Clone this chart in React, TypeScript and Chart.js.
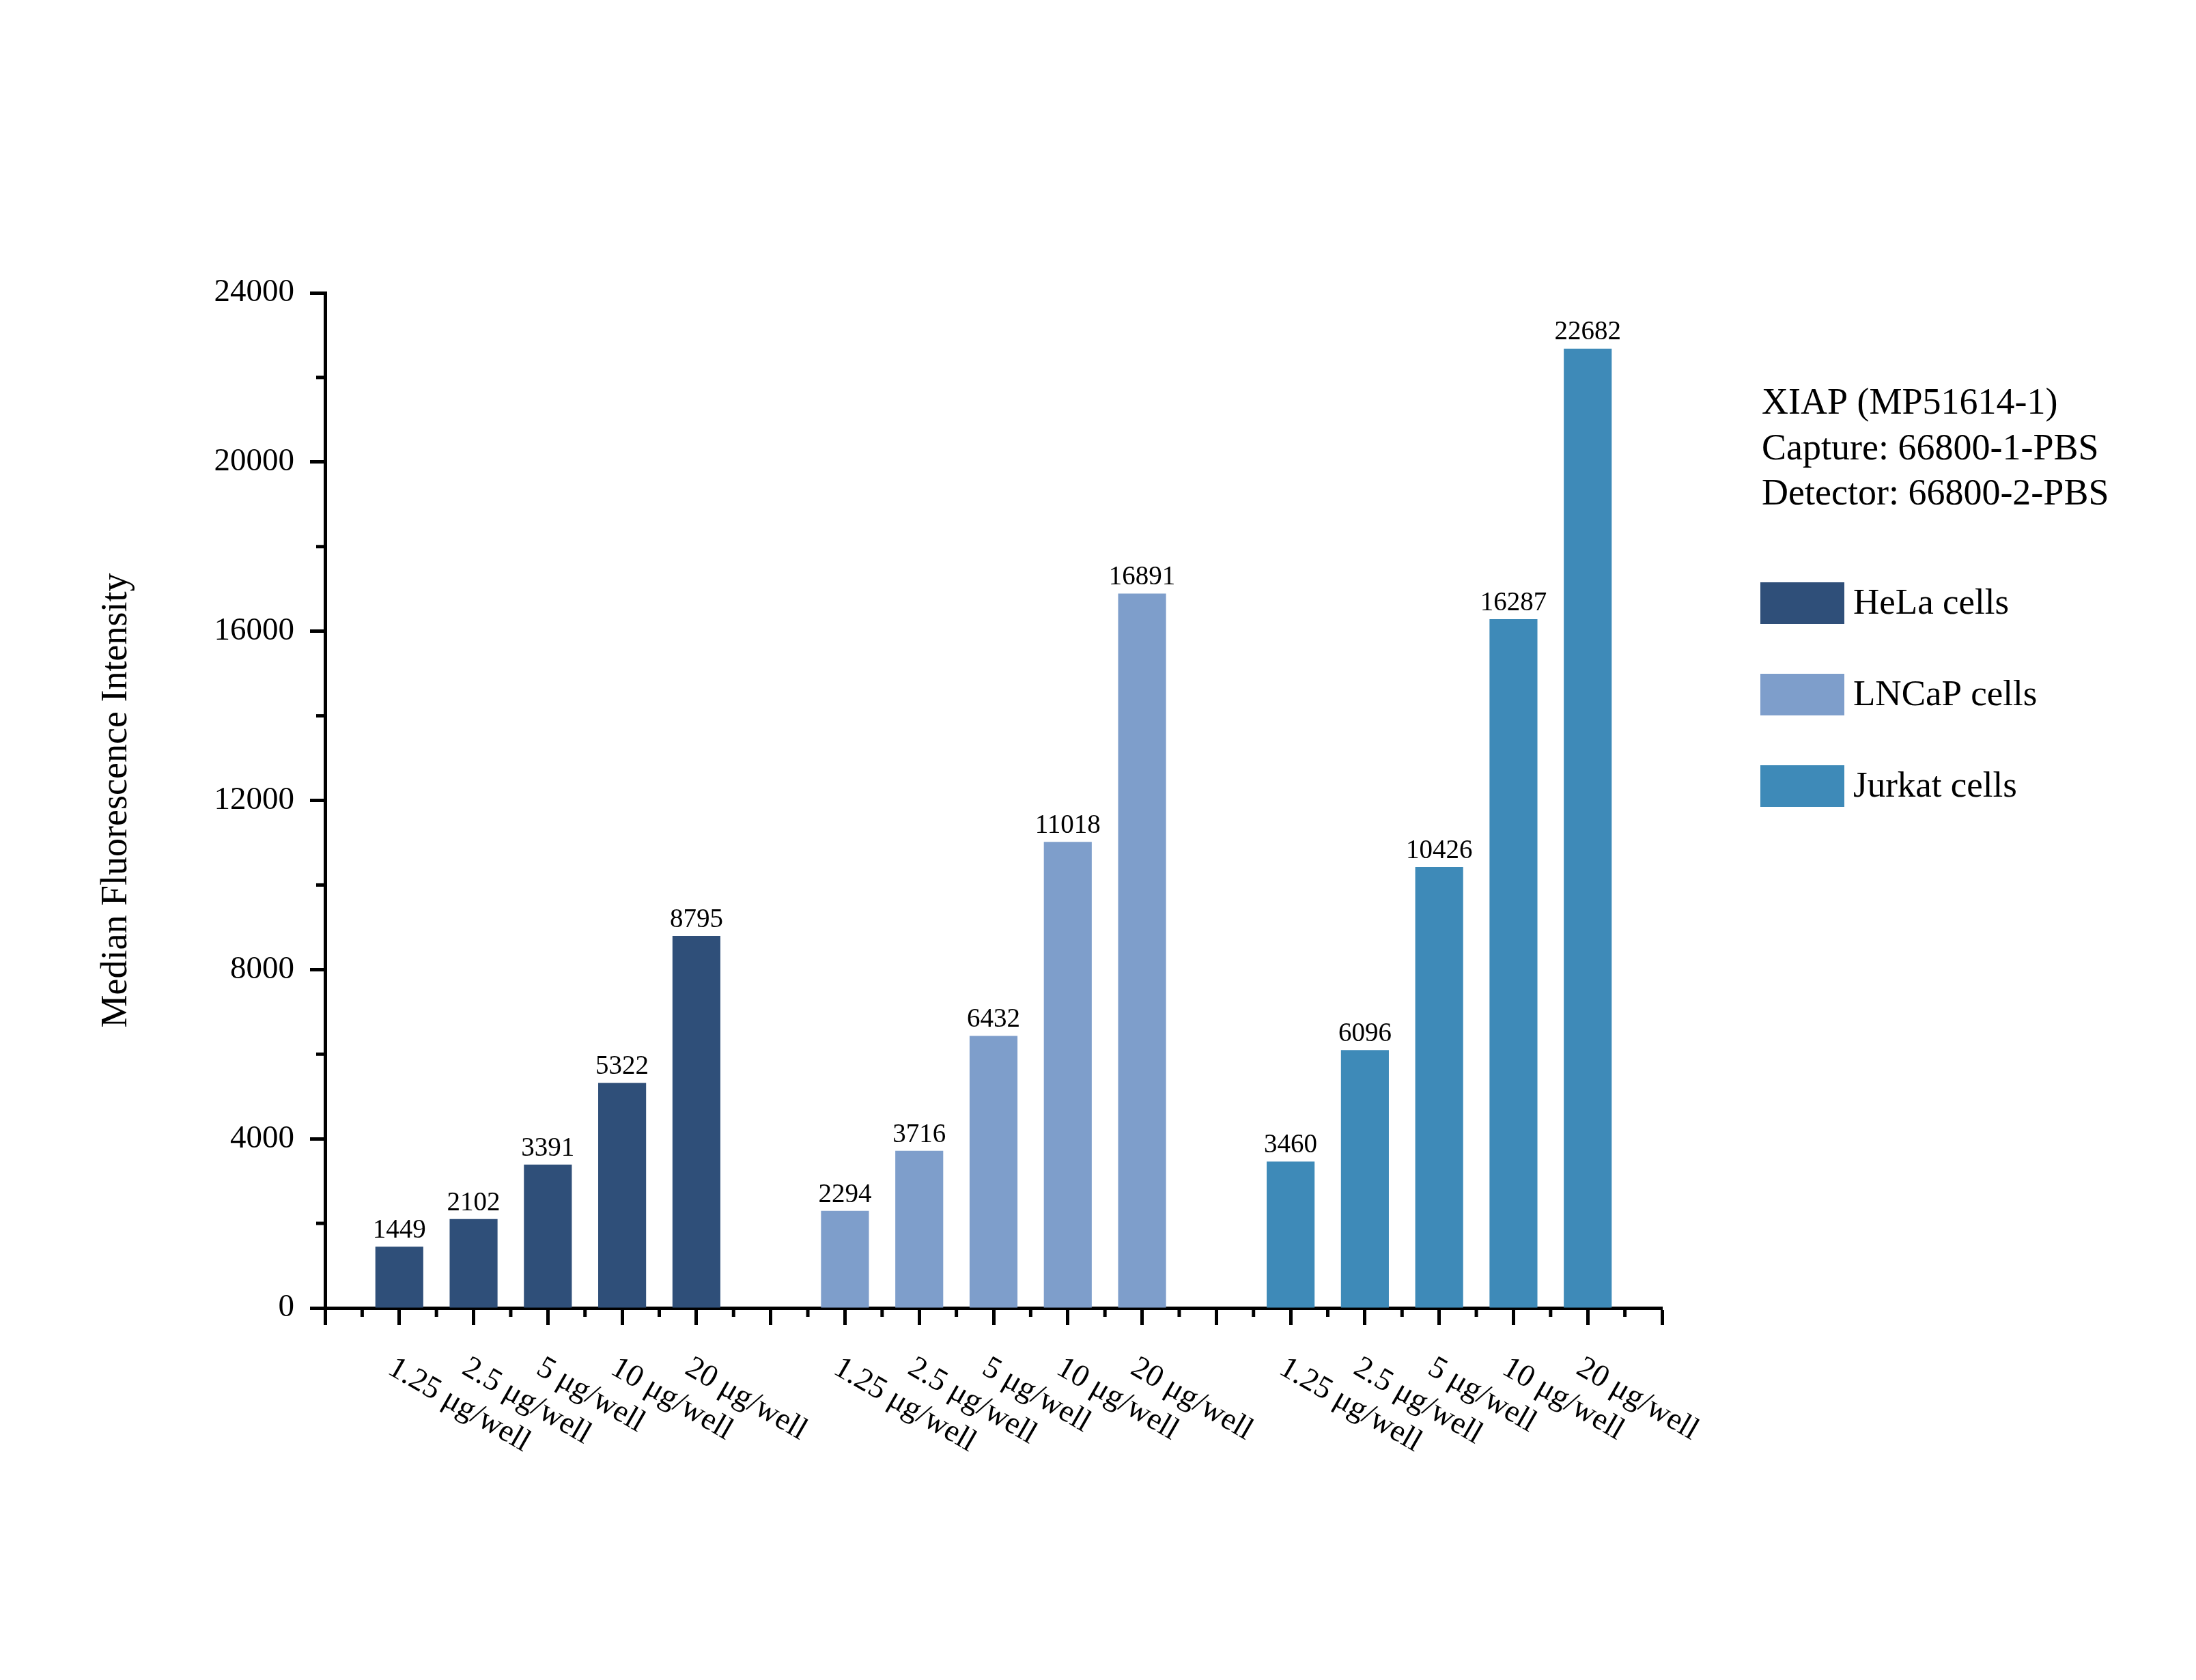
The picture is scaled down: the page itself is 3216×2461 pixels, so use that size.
import React, { useEffect, useRef } from 'react';
import { Chart, registerables } from 'chart.js';

Chart.register(...registerables);

const FONT = "'Liberation Serif', 'Times New Roman', serif";

const doseLabels = ['1.25 μg/well', '2.5 μg/well', '5 μg/well', '10 μg/well', '20 μg/well'];
const cellLines = ['HeLa cells', 'LNCaP cells', 'Jurkat cells'];
const helaValues = [1449, 2102, 3391, 5322, 8795];
const lncapValues = [2294, 3716, 6432, 11018, 16891];
const jurkatValues = [3460, 6096, 10426, 16287, 22682];
const seriesColors = ['#2F4F79', '#7E9ECB', '#3E8AB8'];
const yTickValues = [0, 4000, 8000, 12000, 16000, 20000, 24000];
const annotationLines = ['XIAP (MP51614-1)', 'Capture: 66800-1-PBS', 'Detector: 66800-2-PBS'];
const yAxisTitle = 'Median Fluorescence Intensity';
const slotsPerGroup = 6; // 5 doses + 1 empty slot between groups
const xMax = 18;

const seriesValues = [helaValues, lncapValues, jurkatValues];
const xPosition = (g: number, i: number) => g * slotsPerGroup + i + 1;

const W = 3216;
const H = 2461;

const overlayPlugin = {
  id: 'overlay',
  afterDraw(chart: any) {
    const { ctx, chartArea, scales } = chart;
    const x = scales.x;
    const y = scales.y;
    ctx.save();
    // minor ticks
    ctx.strokeStyle = '#000';
    ctx.lineWidth = 5;
    for (let v = 0.5; v < xMax; v += 1) {
      const px = x.getPixelForValue(v);
      ctx.beginPath();
      ctx.moveTo(px, chartArea.bottom);
      ctx.lineTo(px, chartArea.bottom + 13);
      ctx.stroke();
    }
    for (let k = 0; k < yTickValues.length - 1; k++) {
      const v = (yTickValues[k] + yTickValues[k + 1]) / 2;
      const py = y.getPixelForValue(v);
      ctx.beginPath();
      ctx.moveTo(chartArea.left, py);
      ctx.lineTo(chartArea.left - 13, py);
      ctx.stroke();
    }

    // value labels
    ctx.fillStyle = '#000';
    ctx.font = `39px ${FONT}`;
    ctx.textAlign = 'center';
    ctx.textBaseline = 'bottom';
    chart.data.datasets.forEach((ds: any, di: number) => {
      const meta = chart.getDatasetMeta(di);
      meta.data.forEach((el: any, i: number) => {
        ctx.fillText(String(ds.data[i].y), el.x, el.y - 4);
      });
    });

    // rotated x labels
    ctx.font = `46px ${FONT}`;
    ctx.textAlign = 'left';
    ctx.textBaseline = 'alphabetic';
    seriesValues.forEach((_vals, g) => {
      doseLabels.forEach((lab, i) => {
        const px = x.getPixelForValue(xPosition(g, i));
        ctx.save();
        ctx.translate(px - 19, chartArea.bottom + 95);
        ctx.rotate(Math.PI / 6);
        ctx.fillText(lab, 0, 0);
        ctx.restore();
      });
    });

    // annotation text
    ctx.font = `54px ${FONT}`;
    ctx.textAlign = 'left';
    ctx.textBaseline = 'middle';
    annotationLines.forEach((line, k) => {
      ctx.fillText(line, 2580, 592 + k * 66.5);
    });

    // legend
    ctx.font = `53px ${FONT}`;
    cellLines.forEach((name, k) => {
      const top = 853 + k * 134;
      ctx.fillStyle = seriesColors[k];
      ctx.fillRect(2578, top, 123, 61);
      ctx.fillStyle = '#000';
      ctx.fillText(name, 2714, top + 32);
    });
    ctx.restore();
  },
};

export default function App() {
  const canvasRef = useRef<HTMLCanvasElement | null>(null);

  useEffect(() => {
    const canvas = canvasRef.current;
    if (!canvas) return;
    const chart = new Chart(canvas, {
      type: 'bar',
      data: {
        datasets: seriesValues.map((vals, g) => ({
          label: cellLines[g],
          data: vals.map((v, i) => ({ x: xPosition(g, i), y: v })),
          backgroundColor: seriesColors[g],
          borderWidth: 0,
          grouped: false,
          barPercentage: 0.645,
          categoryPercentage: 1,
        })),
      } as any,
      options: {
        animation: false,
        responsive: false,
        devicePixelRatio: 1,
        layout: { padding: { left: 0, top: 429, right: W - 2434, bottom: 0 } },
        plugins: {
          legend: { display: false },
          tooltip: { enabled: false },
        },
        scales: {
          x: {
            type: 'linear',
            min: 0,
            max: xMax,
            offset: false,
            ticks: {
              stepSize: 1,
              autoSkip: false,
              maxRotation: 0,
              callback: () => '',
            },
            grid: {
              offset: false,
              drawOnChartArea: false,
              drawTicks: true,
              tickLength: 25,
              tickWidth: 5,
              tickColor: '#000',
            },
            border: { display: true, color: '#000', width: 5 },
            afterFit: (s: any) => {
              s.height = H - 1916;
            },
          },
          y: {
            type: 'linear',
            min: 0,
            max: 24000,
            afterBuildTicks: (s: any) => {
              s.ticks = yTickValues.map((v) => ({ value: v }));
            },
            ticks: {
              color: '#000',
              padding: 23,
              font: { family: FONT, size: 47 },
              callback: (v: any) => String(v),
            },
            grid: {
              drawOnChartArea: false,
              drawTicks: true,
              tickLength: 22,
              tickWidth: 5,
              tickColor: '#000',
            },
            border: { display: true, color: '#000', width: 5 },
            title: {
              display: true,
              text: yAxisTitle,
              color: '#000',
              font: { family: FONT, size: 54 },
              padding: { top: 138, bottom: 0 },
            },
            afterFit: (s: any) => {
              s.width = 476;
            },
          },
        },
      } as any,
      plugins: [overlayPlugin],
    });
    return () => chart.destroy();
  }, []);

  return (
    <div style={{ position: 'absolute', left: 0, top: 0, width: W, height: H, background: '#fff' }}>
      <canvas ref={canvasRef} width={W} height={H} style={{ display: 'block', width: W, height: H }} />
    </div>
  );
}
